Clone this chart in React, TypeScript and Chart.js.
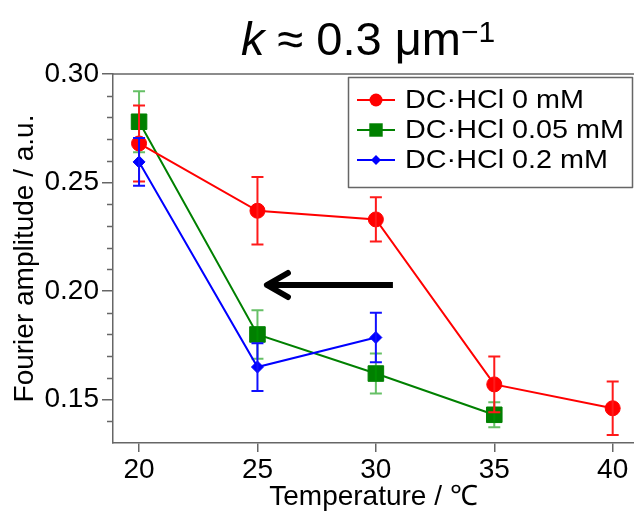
import React, { useEffect, useRef } from 'react';
import { Chart, registerables } from 'chart.js';

Chart.register(...registerables);

// ---- data ----
const seriesLabels = ['DC·HCl 0 mM', 'DC·HCl 0.05 mM', 'DC·HCl 0.2 mM'];

const temps0 = [20, 25, 30, 35, 40];
const amp0 = [0.268, 0.237, 0.233, 0.157, 0.146];
const err0 = [0.0175, 0.0155, 0.0102, 0.0128, 0.0123];

const temps005 = [20, 25, 30, 35];
const amp005 = [0.278, 0.180, 0.162, 0.143];
const err005 = [0.014, 0.0112, 0.0092, 0.0058];

const temps02 = [20, 25, 30];
const amp02 = [0.2595, 0.165, 0.1786];
const err02 = [0.011, 0.011, 0.0114];

const xTicks = [20, 25, 30, 35, 40];
const yTicks = [0.15, 0.2, 0.25, 0.3];
const yMinorTicks = [0.14, 0.16, 0.17, 0.18, 0.19, 0.21, 0.22, 0.23, 0.24, 0.26, 0.27, 0.28, 0.29];

// arrow annotation (data coordinates)
const arrowX = [30.72, 25.4];
const arrowY = [0.2028, 0.2028];

const FONT = '"Liberation Sans", Arial, sans-serif';

const colors = ['#ff0000', '#008000', '#0000ff'];
const errColors = ['#ff1a1a', 'rgba(0,150,0,0.6)', '#1010ff'];
const pointStyles = ['circle', 'rect', 'rectRot'];
const pointRadii = [7.5, 11, 6];
const orders = [1, 2, 0];

const xs = [temps0, temps005, temps02];
const ys = [amp0, amp005, amp02];
const errs = [err0, err005, err02];

export default function App() {
  const ref = useRef<HTMLCanvasElement | null>(null);

  useEffect(() => {
    const canvas = ref.current;
    if (!canvas) return;

    const custom = {
      id: 'custom',
      afterDatasetDraw(chart: any, args: any) {
        const i = args.index;
        const ctx = chart.ctx;
        const xS = chart.scales.x;
        const yS = chart.scales.y;
        ctx.save();
        ctx.strokeStyle = errColors[i];
        ctx.lineWidth = 2;
        xs[i].forEach((xv, j) => {
          const px = xS.getPixelForValue(xv);
          const pt = yS.getPixelForValue(ys[i][j] + errs[i][j]);
          const pb = yS.getPixelForValue(ys[i][j] - errs[i][j]);
          ctx.beginPath();
          ctx.moveTo(px, pt);
          ctx.lineTo(px, pb);
          ctx.moveTo(px - 6, pt);
          ctx.lineTo(px + 6, pt);
          ctx.moveTo(px - 6, pb);
          ctx.lineTo(px + 6, pb);
          ctx.stroke();
        });
        ctx.restore();
      },
      afterDraw(chart: any) {
        const ctx = chart.ctx;
        const area = chart.chartArea;
        const xS = chart.scales.x;
        const yS = chart.scales.y;
        ctx.save();
        // top frame line
        ctx.strokeStyle = '#666';
        ctx.lineWidth = 1.5;
        ctx.beginPath();
        ctx.moveTo(area.left, area.top);
        ctx.lineTo(chart.width, area.top);
        ctx.stroke();
        // minor y ticks
        ctx.lineWidth = 1.5;
        yMinorTicks.forEach((v) => {
          const py = Math.round(yS.getPixelForValue(v)) + 0.5;
          ctx.beginPath();
          ctx.moveTo(area.left - 6, py);
          ctx.lineTo(area.left, py);
          ctx.stroke();
        });
        // arrow
        const ax0 = xS.getPixelForValue(arrowX[0]);
        const ax1 = xS.getPixelForValue(arrowX[1]);
        const ay0 = yS.getPixelForValue(arrowY[0]);
        const ay1 = yS.getPixelForValue(arrowY[1]);
        ctx.strokeStyle = '#000';
        ctx.lineWidth = 6;
        ctx.lineCap = 'butt';
        ctx.beginPath();
        ctx.moveTo(ax0, ay0);
        ctx.lineTo(ax1 + 3, ay1);
        ctx.stroke();
        ctx.lineCap = 'round';
        ctx.lineJoin = 'round';
        ctx.beginPath();
        ctx.moveTo(ax1 + 21, ay1 - 12);
        ctx.lineTo(ax1, ay1);
        ctx.lineTo(ax1 + 21, ay1 + 12);
        ctx.stroke();

        // legend
        const lx = 348, ly = 77, lw = 284, lh = 110;
        ctx.fillStyle = '#fff';
        ctx.fillRect(lx, ly, lw, lh);
        ctx.strokeStyle = '#666';
        ctx.lineWidth = 1.5;
        ctx.strokeRect(lx + 0.5, ly + 0.5, lw, lh);
        const rows = [100, 130, 160];
        const legR = [6.5, 9.5, 5];
        ctx.font = `25px ${FONT}`;
        const longest = Math.max(...seriesLabels.map((s) => ctx.measureText(s).width));
        const sx = 219 / longest;
        rows.forEach((ry, i) => {
          ctx.strokeStyle = colors[i];
          ctx.lineWidth = 2;
          ctx.lineCap = 'butt';
          ctx.beginPath();
          ctx.moveTo(357, ry);
          ctx.lineTo(395, ry);
          ctx.stroke();
          ctx.fillStyle = colors[i];
          ctx.beginPath();
          if (i === 0) {
            ctx.arc(376, ry, legR[0], 0, Math.PI * 2);
          } else if (i === 1) {
            const s = legR[1] * Math.SQRT1_2;
            ctx.rect(376 - s, ry - s, 2 * s, 2 * s);
          } else {
            const r = legR[2];
            ctx.moveTo(376 - r, ry);
            ctx.lineTo(376, ry - r);
            ctx.lineTo(376 + r, ry);
            ctx.lineTo(376, ry + r);
            ctx.closePath();
          }
          ctx.fill();
          ctx.fillStyle = '#000';
          ctx.font = `25px ${FONT}`;
          ctx.textAlign = 'left';
          ctx.textBaseline = 'middle';
          ctx.save();
          ctx.translate(405, ry + 1);
          ctx.scale(sx, 1);
          ctx.fillText(seriesLabels[i], 0, 0);
          ctx.restore();
        });

        // title: k ≈ 0.3 μm⁻¹
        ctx.textBaseline = 'alphabetic';
        ctx.textAlign = 'left';
        const parts = [
          { t: 'k', f: `italic 47px ${FONT}`, dy: 0 },
          { t: ' ≈ 0.3 μm', f: `47px ${FONT}`, dy: 0 },
          { t: '−1', f: `30px ${FONT}`, dy: -13 },
        ];
        let total = 0;
        const widths = parts.map((p) => {
          ctx.font = p.f;
          const w = ctx.measureText(p.t).width;
          total += w;
          return w;
        });
        let cx = 368 - total / 2;
        parts.forEach((p, i) => {
          ctx.font = p.f;
          ctx.fillText(p.t, cx, 55 + p.dy);
          cx += widths[i];
        });
        ctx.restore();
      },
    };

    const chart = new Chart(canvas, {
      type: 'line',
      data: {
        datasets: seriesLabels.map((label, i) => ({
          label,
          data: xs[i].map((x, j) => ({ x, y: ys[i][j] })),
          borderColor: colors[i],
          backgroundColor: colors[i],
          borderWidth: 2,
          pointStyle: pointStyles[i] as any,
          pointRadius: pointRadii[i],
          pointBorderWidth: 1,
          pointBorderColor: colors[i],
          pointBackgroundColor: colors[i],
          order: orders[i],
          tension: 0,
          fill: false,
        })),
      },
      options: {
        animation: false,
        responsive: false,
        maintainAspectRatio: false,
        devicePixelRatio: 1,
        layout: { autoPadding: false, padding: { top: 74, right: 0, left: 0, bottom: 0 } },
        plugins: {
          legend: { display: false },
          title: { display: false },
          tooltip: { enabled: false },
        },
        scales: {
          x: {
            type: 'linear',
            min: 18.9,
            max: 40.9,
            afterBuildTicks: (s: any) => {
              s.ticks = xTicks.map((v) => ({ value: v }));
            },
            afterFit: (s: any) => {
              s.height = 71;
              s.paddingRight = 0;
              s.paddingLeft = 0;
            },
            grid: {
              display: true,
              drawOnChartArea: false,
              drawTicks: true,
              tickLength: 9,
              color: '#666',
              lineWidth: 1.5,
            },
            border: { display: true, color: '#666', width: 1.5 },
            ticks: {
              font: { family: FONT, size: 28 },
              color: '#000',
              padding: 1,
              maxRotation: 0,
              autoSkip: false,
              callback: (v: any) => String(v),
            },
            title: {
              display: true,
              text: 'Temperature / ℃',
              font: { family: FONT, size: 28 },
              color: '#000',
              padding: { top: 0, bottom: 0 },
            },
          },
          y: {
            type: 'linear',
            min: 0.13,
            max: 0.3,
            afterBuildTicks: (s: any) => {
              s.ticks = yTicks.map((v) => ({ value: v }));
            },
            afterFit: (s: any) => {
              s.width = 113;
              s.paddingTop = 0;
              s.paddingBottom = 0;
            },
            grid: {
              display: true,
              drawOnChartArea: false,
              drawTicks: true,
              tickLength: 11,
              color: '#666',
              lineWidth: 1.5,
            },
            border: { display: true, color: '#666', width: 1.5 },
            ticks: {
              font: { family: FONT, size: 28 },
              color: '#000',
              padding: 3,
              callback: (v: any) => Number(v).toFixed(2),
            },
            title: {
              display: true,
              text: 'Fourier amplitude / a.u.',
              font: { family: FONT, size: 28 },
              color: '#000',
              padding: { top: 8, bottom: 0 },
            },
          },
        },
      },
      plugins: [custom],
    });

    return () => {
      chart.destroy();
    };
  }, []);

  return (
    <div style={{ position: 'fixed', left: 0, top: 0, width: 634, height: 514, background: '#fff' }}>
      <canvas ref={ref} width={634} height={514} style={{ width: 634, height: 514, display: 'block' }} />
    </div>
  );
}
